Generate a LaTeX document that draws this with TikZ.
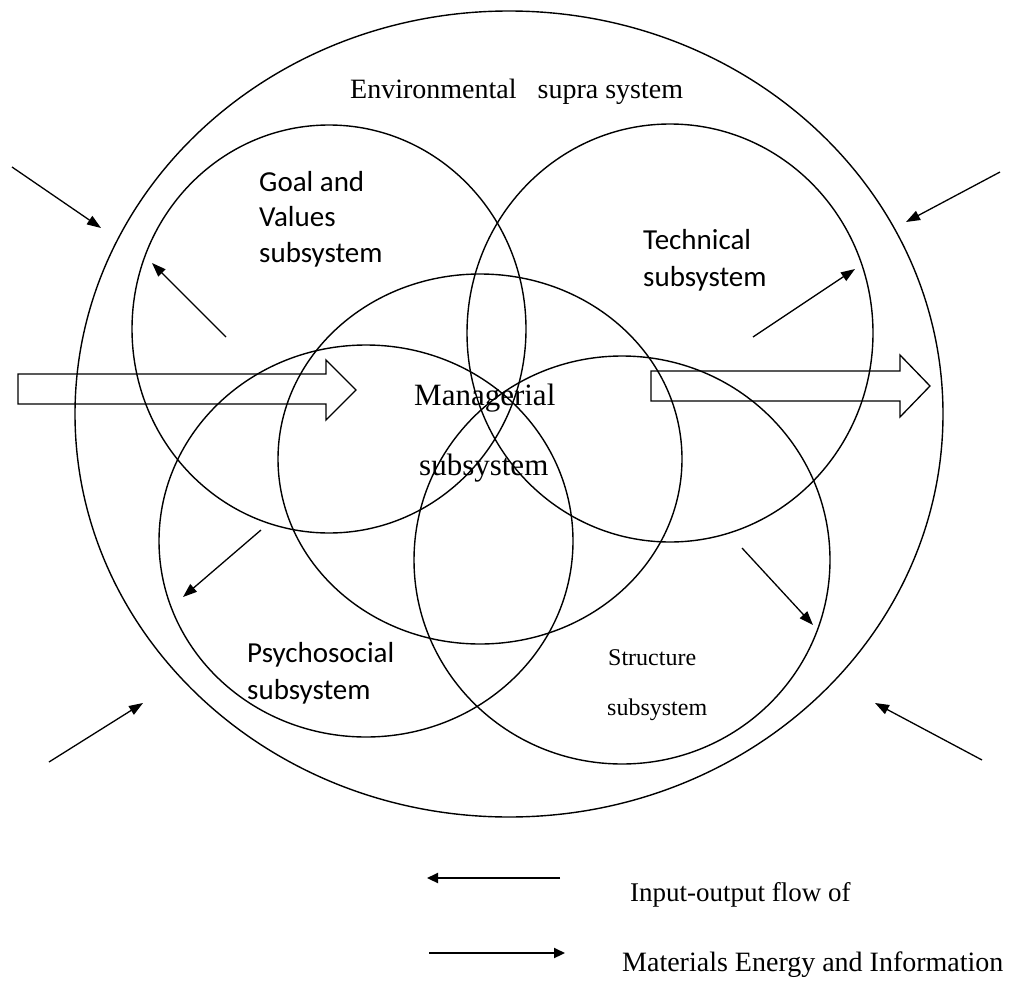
\documentclass[tikz,border=0pt]{standalone}
\usepackage{fontspec}
\setmainfont{Liberation Serif}
\newfontfamily\calfont{Carlito}
\usetikzlibrary{arrows.meta}
\begin{document}
\begin{tikzpicture}[x=1pt,y=-1pt,
  ring/.style={draw, line width=1.4pt},
  flow/.style={draw, line width=1.3pt, -{Triangle[length=14pt,width=10pt]}},
  legarrow/.style={draw, line width=2.2pt, -{Triangle[length=11pt,width=10pt]}},
  block/.style={draw, line width=1.3pt, line join=miter},
  lbl/.style={anchor=base west, inner sep=0pt},
  sans/.style={lbl, font=\calfont\fontsize{29}{35}\selectfont},
  serif/.style={lbl, font=\fontsize{#1}{#1}\selectfont},
]
\fill[white] (0,0) rectangle (1012,982);
\useasboundingbox (0,0) rectangle (1012,982);

% centres
\coordinate (env)  at (509,414);
\coordinate (goal) at (329,329);
\coordinate (tech) at (670,333);
\coordinate (mgr)  at (480,459);
\coordinate (psy)  at (366,541);
\coordinate (str)  at (622,560);

\draw[ring] (env)  ellipse [x radius=434pt, y radius=403pt];
\draw[ring] (goal) ellipse [x radius=197pt, y radius=204pt];
\draw[ring] (tech) ellipse [x radius=203pt, y radius=209pt];
\draw[ring] (mgr)  ellipse [x radius=202pt, y radius=185pt];
\draw[ring] (psy)  ellipse [x radius=207pt, y radius=196pt];
\draw[ring] (str)  ellipse [x radius=208pt, y radius=204pt];

% block arrows
\draw[block] (18,374) -- (326,374) -- (326,360) -- (356,390) -- (326,420) -- (326,404) -- (18,404) -- cycle;
\draw[block] (651,371) -- (900,371) -- (900,355) -- (930,386) -- (900,417) -- (900,401) -- (651,401) -- cycle;

% environment arrows
\coordinate (a1s) at (12,167);  \coordinate (a1e) at (101,228);
\coordinate (a2s) at (1000,172); \coordinate (a2e) at (906,222);
\coordinate (a3s) at (49,762);  \coordinate (a3e) at (143,703);
\coordinate (a4s) at (982,760); \coordinate (a4e) at (875,703);
\draw[flow] (a1s) -- (a1e);
\draw[flow] (a2s) -- (a2e);
\draw[flow] (a3s) -- (a3e);
\draw[flow] (a4s) -- (a4e);

% internal arrows
\coordinate (b1s) at (226,337); \coordinate (b1e) at (152,263);
\coordinate (b2s) at (753,337); \coordinate (b2e) at (855,269);
\coordinate (b3s) at (261,530); \coordinate (b3e) at (183,597);
\coordinate (b4s) at (742,548); \coordinate (b4e) at (813,625);
\draw[flow] (b1s) -- (b1e);
\draw[flow] (b2s) -- (b2e);
\draw[flow] (b3s) -- (b3e);
\draw[flow] (b4s) -- (b4e);

% labels
\node[serif=28] (tenv) at (350,99) {Environmental\hspace{21pt}supra system};
\node[sans] (tg1) at (259,191) {Goal and};
\node[sans] (tg2) at (259,226) {Values};
\node[sans] (tg3) at (259,262) {subsystem};
\node[sans] (tt1) at (643,249) {Technical};
\node[sans] (tt2) at (643,286) {subsystem};
\node[sans] (tp1) at (247,662) {Psychosocial};
\node[sans] (tp2) at (247,699) {subsystem};
\node[serif=31] (tm1) at (414,405) {Managerial};
\node[serif=31] (tm2) at (419,475) {subsystem};
\node[serif=24] (ts1) at (608,665) {Structure};
\node[serif=24] (ts2) at (607,715) {subsystem};

% legend
\coordinate (l1s) at (560,878); \coordinate (l1e) at (427,878);
\coordinate (l2s) at (429,953); \coordinate (l2e) at (565,953);
\draw[legarrow] (l1s) -- (l1e);
\draw[legarrow] (l2s) -- (l2e);
\node[serif=27] (tl1) at (630,901) {Input-output flow of};
\node[serif=28] (tl2) at (622,971) {Materials Energy and Information};
\end{tikzpicture}
\end{document}
